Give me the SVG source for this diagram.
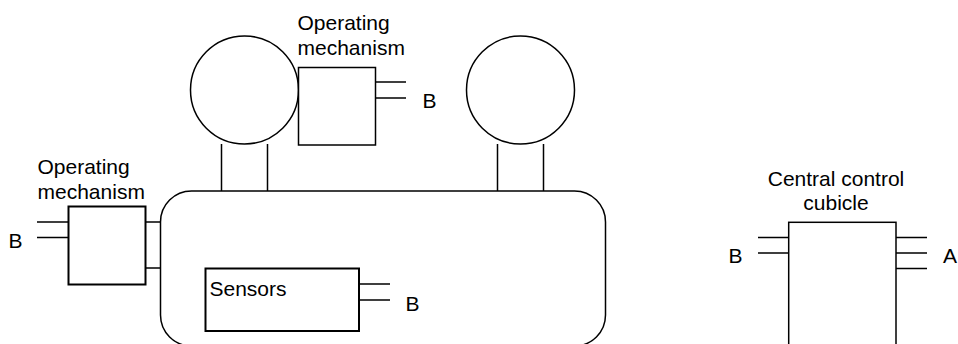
<svg xmlns="http://www.w3.org/2000/svg" width="958" height="344" viewBox="0 0 958 344">
<style>
.s{fill:#fff;stroke:#000;stroke-width:1.5}
.b{fill:none;stroke:#000;stroke-width:2}
.c{fill:none;stroke:#000;stroke-width:1.5}
text{font-family:"Liberation Sans",Arial,sans-serif;font-size:21px;fill:#000}
.m{text-anchor:middle}
</style>
<rect width="958" height="344" fill="#fff"/>
<g id="connectors">
<path class="c" d="M221.500 144V191M267.500 144V191M497.500 144V191M543.500 144V191"/>
<path class="c" d="M375 82H406M375 98H406"/>
<path class="c" d="M37 222H68M37 237.500H68M145 222H160M145 268H160"/>
<path class="c" d="M359 284H390M359 300H390"/>
<path class="c" d="M758 237.500H788M758 253H788M896 237.500H927M896 253H927M896 268.500H927"/>
</g>
<g id="tank"><rect class="c" x="160.500" y="191" width="445" height="155" rx="31" ry="31"/></g>
<g id="bushing-left"><circle class="c" cx="244.500" cy="90" r="54"/></g>
<g id="bushing-right"><circle class="c" cx="520.500" cy="90" r="54"/></g>
<g id="mechanism-top"><rect class="s" x="298.500" y="67.500" width="77" height="77.500"/>
<text x="297.500" y="30">Operating</text><text x="297.500" y="54.500">mechanism</text></g>
<g id="mechanism-left"><rect class="b" x="68.500" y="206.500" width="77" height="78"/>
<text x="37.500" y="174">Operating</text><text x="37.500" y="198.500">mechanism</text></g>
<g id="sensors"><rect class="b" x="205.500" y="268.500" width="153.500" height="62.500"/>
<text x="209.500" y="296">Sensors</text></g>
<g id="central"><rect class="s" x="788.700" y="222.300" width="107.300" height="130"/>
<text class="m" x="836" y="186">Central control</text><text class="m" x="836" y="210">cubicle</text></g>
<g id="labels">
<text x="422.500" y="108">B</text><text x="8.500" y="248">B</text><text x="405.500" y="311">B</text><text x="728.500" y="263">B</text><text x="943" y="263">A</text>
</g>
</svg>
